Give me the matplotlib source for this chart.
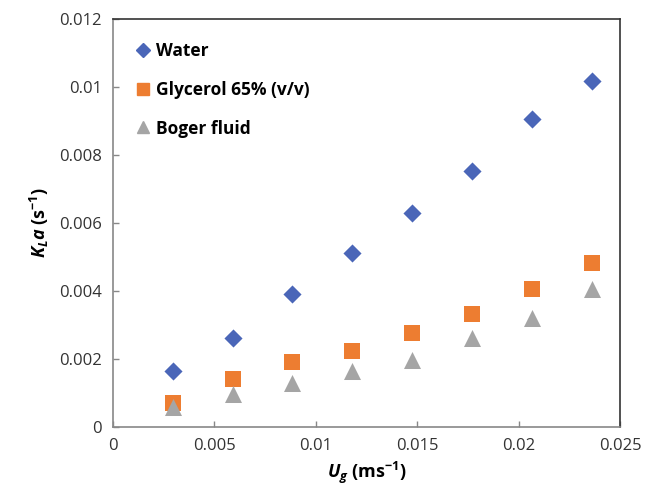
import matplotlib
matplotlib.use("Agg")
import matplotlib.pyplot as plt
from matplotlib.lines import Line2D

plt.rcParams['font.family'] = ['Open Sans', 'DejaVu Sans']
plt.rcParams['mathtext.fontset'] = 'custom'
plt.rcParams['mathtext.it'] = 'Open Sans:italic:bold'
plt.rcParams['mathtext.bf'] = 'Open Sans:bold'
plt.rcParams['mathtext.rm'] = 'Open Sans:bold'

ug = [0.00295, 0.0059, 0.00885, 0.0118, 0.01475, 0.0177, 0.02065, 0.0236]
water = [0.00166, 0.00263, 0.00391, 0.00512, 0.00629, 0.00754, 0.00905, 0.01018]
glycerol = [0.00072, 0.00140, 0.00192, 0.00224, 0.00276, 0.00332, 0.00406, 0.00481]
boger = [0.00058, 0.00097, 0.00128, 0.00166, 0.00197, 0.00261, 0.00322, 0.00406]
labels = ['Water', 'Glycerol 65% (v/v)', 'Boger fluid']
xticks = [0, 0.005, 0.01, 0.015, 0.02, 0.025]
xticklabels = ['0', '0.005', '0.01', '0.015', '0.02', '0.025']
yticks = [0, 0.002, 0.004, 0.006, 0.008, 0.01, 0.012]
yticklabels = ['0', '0.002', '0.004', '0.006', '0.008', '0.01', '0.012']

c_water = '#4A66B8'
c_gly = '#ED7D31'
c_bog = '#A5A5A5'

fig = plt.figure(figsize=(6.56, 4.97), dpi=100)
ax = fig.add_axes([113/656, 1-427/497, (620-113)/656, (427-19)/497])

ax.scatter(ug, water, marker='D', s=85, color=c_water, zorder=3, linewidths=0)
ax.scatter(ug, glycerol, marker='s', s=125, color=c_gly, zorder=3, linewidths=0)
ax.scatter(ug, boger, marker='^', s=150, color=c_bog, zorder=4, linewidths=0)

ax.set_xlim(0, 0.025)
ax.set_ylim(0, 0.012)
ax.set_xticks(xticks)
ax.set_xticklabels(xticklabels)
ax.set_yticks(yticks)
ax.set_yticklabels(yticklabels)
ax.tick_params(direction='in', length=4, width=1, color='#888888', labelsize=12, labelcolor='#333333')
ax.tick_params(axis='x', pad=8)
ax.tick_params(axis='y', pad=8)

for s in ['left', 'bottom']:
    ax.spines[s].set_color('#888888')
for s in ['top', 'right']:
    ax.spines[s].set_color('#333333')
for s in ax.spines.values():
    s.set_linewidth(1.2)

ax.set_xlabel(r'$U_g$' + ' (ms$^{\\mathbf{-1}}$)', fontsize=13, fontweight='bold', labelpad=4)
ax.set_ylabel(r'$K_L a$' + ' (s$^{\\mathbf{-1}}$)', fontsize=13, fontweight='bold', labelpad=6)

handles = [
    Line2D([], [], marker='D', color=c_water, linestyle='none', markersize=7),
    Line2D([], [], marker='s', color=c_gly, linestyle='none', markersize=8),
    Line2D([], [], marker='^', color=c_bog, linestyle='none', markersize=9),
]
leg = ax.legend(handles, labels, loc='upper left', frameon=False,
                prop={'weight': 'bold', 'size': 12.5}, handletextpad=0.0,
                labelspacing=1.2, borderaxespad=0.4, handlelength=1.5,
                bbox_to_anchor=(0.007, 0.978))

fig.savefig('out.png', dpi=100, facecolor='white')
